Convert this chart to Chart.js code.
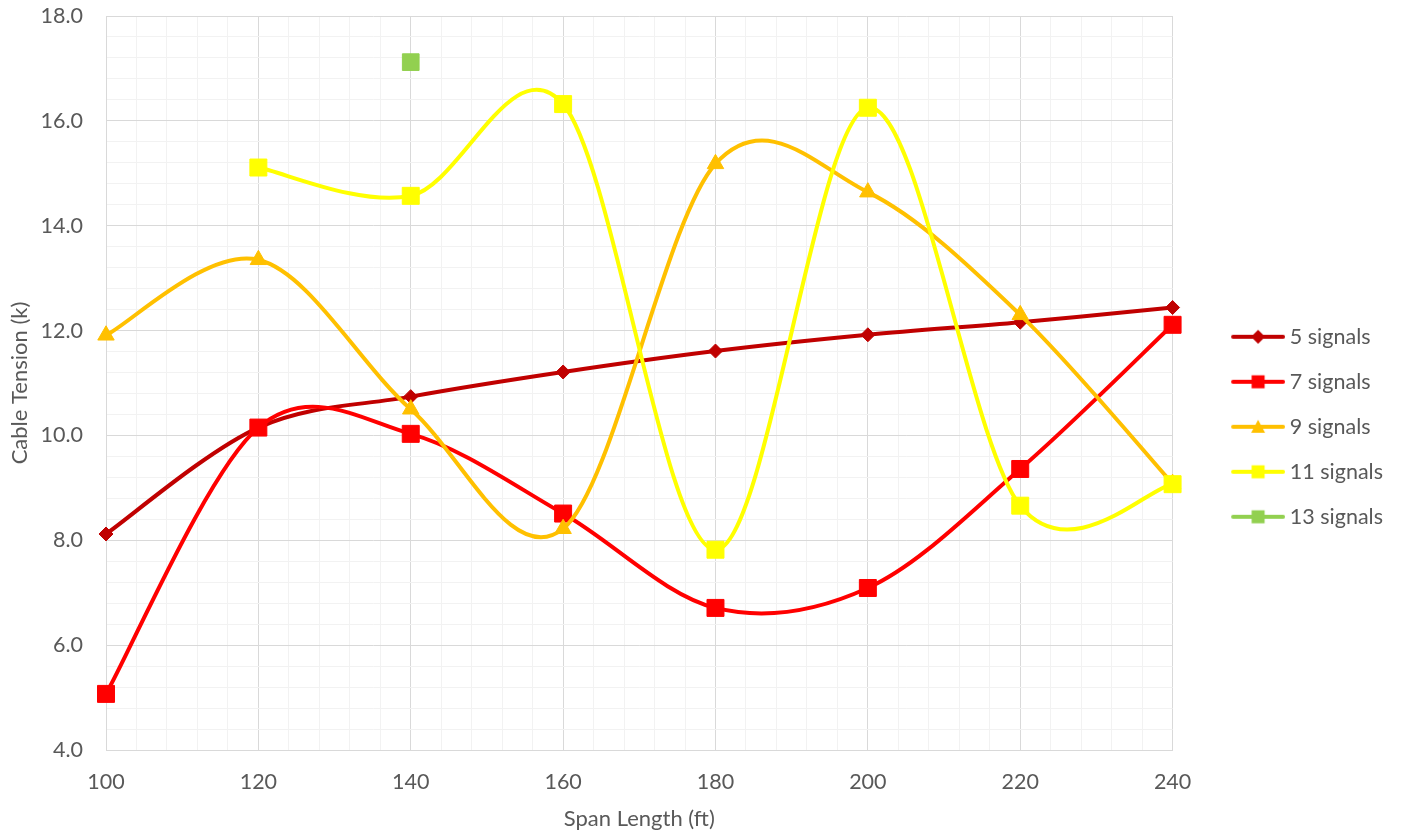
<!DOCTYPE html>
<html>
<head>
<meta charset="utf-8">
<title>Cable Tension vs Span Length</title>
<script src="https://cdn.jsdelivr.net/npm/chart.js@4.4.1/dist/chart.umd.min.js"></script>
<style>
  html, body { margin: 0; padding: 0; background: #fff; }
  canvas { display: block; }
</style>
</head>
<body>
<canvas id="chart" width="1404" height="834"></canvas>
<script>
// --- data ---
const spans = [100, 120, 140, 160, 180, 200, 220, 240];
const seriesNames = ['5 signals', '7 signals', '9 signals', '11 signals', '13 signals'];
const signals5 = [8.12, 10.15, 10.74, 11.21, 11.61, 11.92, 12.16, 12.44];
const signals7 = [5.07, 10.15, 10.03, 8.51, 6.71, 7.09, 9.36, 12.11];
const signals9 = [11.91, 13.35, 10.50, 8.22, 15.18, 14.64, 12.30, 9.08];
const signals11 = [null, 15.11, 14.57, 16.32, 7.82, 16.25, 8.66, 9.07];
const signals13 = [null, null, 17.12, null, null, null, null, null];
const xLabelTicks = [100, 120, 140, 160, 180, 200, 220, 240];
const yLabelTicks = [4, 6, 8, 10, 12, 14, 16, 18];

const textColor = '#595959';
const majorGrid = '#D9D9D9';
const minorGrid = '#F2F2F2';

const styles = [
    { color: '#C00000', marker: 'rectRot', radius: 7, icon: 'diamond' },
    { color: '#FF0000', marker: 'rect', radius: 12, icon: 'square' },
    { color: '#FFC000', marker: 'triangle', radius: 9.5, icon: 'triangle' },
    { color: '#FFFF00', marker: 'rect', radius: 12, icon: 'square' },
    { color: '#92D050', marker: 'rect', radius: 11.8, icon: 'square' }
];
const allValues = [signals5, signals7, signals9, signals11, signals13];

const isLabelled = (list, v) => list.some(t => Math.abs(t - v) < 1e-6);

// small canvas used as legend symbol: line with marker in the middle
function legendIcon(color, shape) {
    const c = document.createElement('canvas');
    c.width = 95;
    c.height = 20;
    const g = c.getContext('2d');
    g.strokeStyle = color;
    g.lineWidth = 4;
    g.lineCap = 'round';
    g.beginPath();
    g.moveTo(43, 10);
    g.lineTo(93, 10);
    g.stroke();
    g.fillStyle = color;
    const cx = 68, cy = 10;
    g.beginPath();
    if (shape === 'diamond') {
        g.moveTo(cx, cy - 7); g.lineTo(cx + 7, cy); g.lineTo(cx, cy + 7); g.lineTo(cx - 7, cy);
    } else if (shape === 'triangle') {
        g.moveTo(cx, cy - 7); g.lineTo(cx + 7, cy + 6); g.lineTo(cx - 7, cy + 6);
    } else {
        g.rect(cx - 6.5, cy - 6.5, 13, 13);
    }
    g.closePath();
    g.fill();
    return c;
}
const legendIcons = styles.map(s => legendIcon(s.color, s.icon));

// Excel style smoothing: bezier handles at 1/6 of the neighbour chord
const excelSmooth = {
    id: 'excelSmooth',
    beforeDatasetDraw(chart, args) {
        const meta = args.meta;
        const line = meta.dataset;
        if (!line) return;
        const runs = [];
        let run = [];
        meta.data.forEach(p => {
            if (p.skip) {
                if (run.length) runs.push(run);
                run = [];
            } else {
                run.push(p);
            }
        });
        if (run.length) runs.push(run);
        runs.forEach(r => {
            for (let i = 0; i < r.length; i++) {
                const p = r[i];
                const prev = r[i - 1] || p;
                const next = r[i + 1] || p;
                const dx = (next.x - prev.x) / 6;
                const dy = (next.y - prev.y) / 6;
                p.cp1x = p.x - dx; p.cp1y = p.y - dy;
                p.cp2x = p.x + dx; p.cp2y = p.y + dy;
            }
        });
        line._pointsUpdated = true;
        line._path = undefined;
    }
};

Chart.defaults.font.family = 'Lato';
Chart.defaults.color = textColor;

const datasets = seriesNames.map((name, i) => ({
    label: name,
    data: spans.map((x, j) => ({ x: x, y: allValues[i][j] })),
    borderColor: styles[i].color,
    backgroundColor: styles[i].color,
    borderWidth: 4,
    tension: 0.4,
    pointStyle: styles[i].marker,
    pointRadius: styles[i].radius,
    pointBorderWidth: 1,
    pointBorderColor: styles[i].color,
    pointBackgroundColor: styles[i].color,
    order: seriesNames.length - i,
    spanGaps: false,
    clip: false
}));

new Chart(document.getElementById('chart'), {
    type: 'line',
    data: { datasets: datasets },
    options: {
        responsive: false,
        animation: false,
        events: [],
        layout: { padding: { top: 16, left: 3, right: 11, bottom: 0 } },
        plugins: {
            tooltip: { enabled: false },
            legend: {
                position: 'right',
                align: 'center',
                title: { display: true, text: ' ', font: { size: 3 }, padding: 0 },
                labels: {
                    usePointStyle: true,
                    pointStyleWidth: 83,
                    padding: 23.5,
                    color: textColor,
                    font: { size: 21.5 },
                    generateLabels: chart => chart.data.datasets.map((ds, i) => ({
                        text: ds.label,
                        pointStyle: legendIcons[i],
                        fontColor: textColor,
                        fillStyle: 'rgba(0,0,0,0)',
                        strokeStyle: 'rgba(0,0,0,0)',
                        lineWidth: 0,
                        hidden: false,
                        datasetIndex: i
                    }))
                }
            }
        },
        scales: {
            x: {
                type: 'linear',
                min: 100,
                max: 240,
                afterFit: scale => { scale.height = 84; },
                ticks: {
                    stepSize: 4,
                    autoSkip: false,
                    maxRotation: 0,
                    padding: 19,
                    color: textColor,
                    font: { size: 21.5 },
                    callback: v => isLabelled(xLabelTicks, v) ? String(v) : ''
                },
                grid: {
                    drawTicks: false,
                    lineWidth: 1,
                    color: ctx => (ctx.tick && isLabelled(xLabelTicks, ctx.tick.value)) ? majorGrid : minorGrid
                },
                border: { color: majorGrid },
                title: {
                    display: true,
                    text: 'Span Length (ft)',
                    color: textColor,
                    font: { size: 22 },
                    padding: { top: 4, bottom: 2 }
                }
            },
            y: {
                min: 4,
                max: 18,
                afterFit: scale => { scale.width = 103; scale.paddingTop = 0; },
                ticks: {
                    stepSize: 0.4,
                    autoSkip: false,
                    padding: 23,
                    color: textColor,
                    font: { size: 21.5 },
                    callback: v => isLabelled(yLabelTicks, v) ? v.toFixed(1) : ''
                },
                grid: {
                    drawTicks: false,
                    lineWidth: 1,
                    color: ctx => (ctx.tick && isLabelled(yLabelTicks, ctx.tick.value)) ? majorGrid : minorGrid
                },
                border: { color: majorGrid },
                title: {
                    display: true,
                    text: 'Cable Tension (k)',
                    color: textColor,
                    font: { size: 22 },
                    padding: { top: 4, bottom: 4 }
                }
            }
        }
    },
    plugins: [excelSmooth]
});
</script>
</body>
</html>
